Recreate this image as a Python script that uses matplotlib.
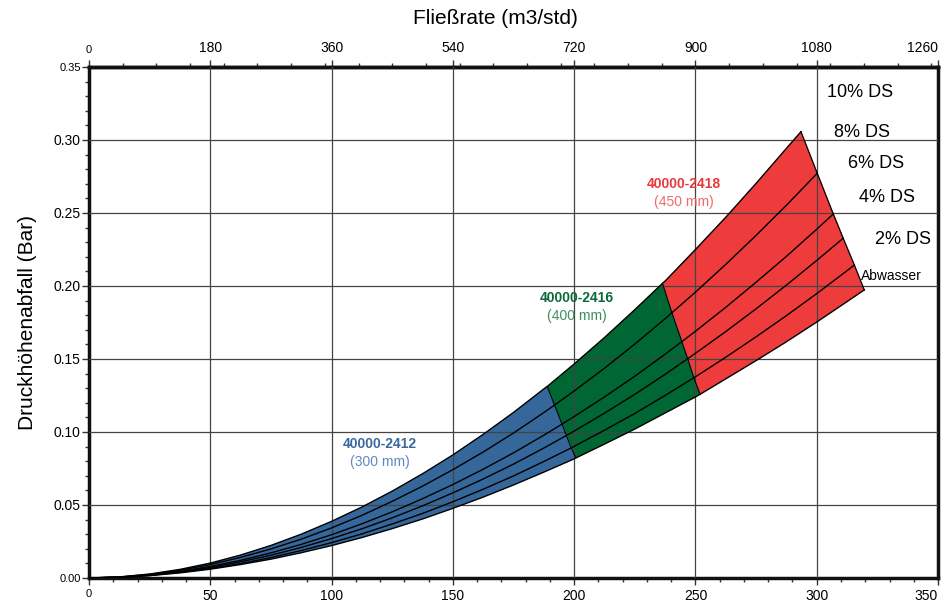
import numpy as np
import matplotlib
matplotlib.use('Agg')
import matplotlib.pyplot as plt
from matplotlib.ticker import MultipleLocator

plt.rcParams['font.family'] = ['Liberation Sans', 'DejaVu Sans']

# Fließrate in l/s (bottom axis), curves
x_grid = [0, 12.5, 25, 37.5, 50, 62.5, 75, 87.5, 100, 112.5, 125, 137.5, 150, 162.5, 175,
          187.5, 200, 212.5, 225, 237.5, 250, 262.5, 275, 287.5, 300, 312.5]
ds10 = [0, 0.0007, 0.0027, 0.0059, 0.0102, 0.0157, 0.0223, 0.0300, 0.0388, 0.0486, 0.0595,
        0.0714, 0.0843, 0.0984, 0.1134, 0.1295, 0.1466, 0.1647, 0.1838, 0.2034, 0.2250,
        0.2471, 0.2703, 0.2943]
ds8 = [0, 0.00066, 0.0025, 0.0053, 0.0092, 0.0141, 0.0199, 0.0266, 0.0343, 0.0429, 0.0525,
       0.0629, 0.0742, 0.0863, 0.0993, 0.1133, 0.1281, 0.1437, 0.1602, 0.1776, 0.1958,
       0.2148, 0.2347, 0.2553]
ds6 = [0, 0.00057, 0.0021, 0.0046, 0.0079, 0.0121, 0.0172, 0.0230, 0.0296, 0.0371, 0.0453,
       0.0543, 0.0640, 0.0745, 0.0857, 0.0978, 0.1106, 0.1240, 0.1382, 0.1533, 0.1690,
       0.1854, 0.2026, 0.2203, 0.2389]
ds4 = [0, 0.00052, 0.0019, 0.0042, 0.0072, 0.0111, 0.0156, 0.0209, 0.0270, 0.0337, 0.0412,
       0.0494, 0.0583, 0.0678, 0.0780, 0.0890, 0.1006, 0.1129, 0.1258, 0.1395, 0.1539,
       0.1688, 0.1844, 0.2006, 0.2175]
ds2 = [0, 0.00046, 0.0017, 0.0038, 0.0065, 0.0099, 0.0140, 0.0188, 0.0242, 0.0302, 0.0370,
       0.0442, 0.0522, 0.0608, 0.0699, 0.0798, 0.0902, 0.1012, 0.1127, 0.1250, 0.1378,
       0.1512, 0.1652, 0.1797, 0.1948, 0.2105]
abwasser = [0, 0.00045, 0.0016, 0.0035, 0.0060, 0.0092, 0.0129, 0.0173, 0.0222, 0.0277, 0.0338,
            0.0404, 0.0477, 0.0554, 0.0637, 0.0725, 0.0816, 0.0917, 0.1020, 0.1130, 0.1240,
            0.1364, 0.1489, 0.1618, 0.1753, 0.1893]
curves = [ds10, ds8, ds6, ds4, ds2, abwasser]

# where each curve crosses the model boundaries, and where it ends
cut1_x = [188.9, 191.9, 195.0, 196.8, 198.8, 200.7]
cut1_y = [0.1312, 0.1184, 0.1054, 0.0976, 0.0891, 0.0822]
cut2_x = [236.4, 240.3, 244.4, 246.8, 249.35, 251.9]
cut2_y = [0.2018, 0.1817, 0.1619, 0.1502, 0.1372, 0.1258]
end_x = [293.5, 300.2, 306.8, 310.9, 315.5, 319.6]
end_y = [0.3057, 0.2772, 0.2493, 0.2327, 0.2144, 0.1973]

curve_labels = ['10% DS', '8% DS', '6% DS', '4% DS', '2% DS', 'Abwasser']
label_x = [304.2, 307.1, 312.7, 317.3, 324.0, 318.3]
label_y = [0.3324, 0.3050, 0.2840, 0.2607, 0.2315, 0.2068]

models = ['40000-2412', '40000-2416', '40000-2418']
sizes = ['(300 mm)', '(400 mm)', '(450 mm)']
model_x = [120, 201.2, 245.3]
model_y = [0.0918, 0.1918, 0.2700]
colors = ['#35679B', '#006633', '#EE3B3B']
text_dark = ['#3A69A0', '#0A6B3A', '#E8393A']
text_light = ['#5F8AC0', '#3D8F5F', '#EF6A6A']


def full_curve(k):
    xs = list(x_grid[:len(curves[k])]) + [cut1_x[k], cut2_x[k], end_x[k]]
    ys = list(curves[k]) + [cut1_y[k], cut2_y[k], end_y[k]]
    order = np.argsort(xs)
    return np.array(xs)[order], np.array(ys)[order]


def section(xs, ys, lo, hi):
    m = (xs >= lo - 1e-9) & (xs <= hi + 1e-9)
    return xs[m], ys[m]


fig = plt.figure(figsize=(9.48, 6.03), dpi=100)
ax = fig.add_axes([0.0939, 0.0415, 0.8956, 0.8474])

top_x, top_y = full_curve(0)
bot_x, bot_y = full_curve(5)
lims = [(0, 0, cut1_x[0], cut1_x[5]),
        (cut1_x[0], cut1_x[5], cut2_x[0], cut2_x[5]),
        (cut2_x[0], cut2_x[5], end_x[0], end_x[5])]
for (lo_t, lo_b, hi_t, hi_b), c in zip(lims, colors):
    tx, ty = section(top_x, top_y, lo_t, hi_t)
    bx, by = section(bot_x, bot_y, lo_b, hi_b)
    ax.fill(np.r_[tx, bx[::-1]], np.r_[ty, by[::-1]], color=c, lw=0, zorder=1)

for k in range(6):
    cx, cy = full_curve(k)
    ax.plot(cx, cy, color='black', lw=1.0, zorder=4)
ax.plot(cut1_x, cut1_y, color='black', lw=0.8, zorder=4)
ax.plot(cut2_x, cut2_y, color='black', lw=0.8, zorder=4)
ax.plot(end_x, end_y, color='black', lw=0.9, zorder=4)

# gridlines on top of the coloured band
for gx in range(50, 350, 50):
    ax.axvline(gx, color='#444444', lw=0.9, zorder=3)
for gy in np.arange(0.05, 0.34, 0.05):
    ax.axhline(gy, color='#444444', lw=0.9, zorder=3)

for t, x, y in zip(curve_labels, label_x, label_y):
    ax.text(x, y, t, fontsize=13 if t != 'Abwasser' else 10, ha='left', va='center', zorder=5)

for m, s, x, y, cd, cl in zip(models, sizes, model_x, model_y, text_dark, text_light):
    ax.text(x, y, m, color=cd, fontsize=10, fontweight='bold', ha='center', va='center', zorder=5)
    ax.text(x, y - 0.0123, s, color=cl, fontsize=10, ha='center', va='center', zorder=5)

ax.set_xlim(0, 350)
ax.set_ylim(0, 0.35)
xt = list(range(0, 351, 50))
ax.set_xticks(xt, [str(v) for v in xt])
yt = [0, 0.05, 0.10, 0.15, 0.20, 0.25, 0.30, 0.35]
ax.set_yticks(yt, ['%.2f' % v for v in yt])
ax.xaxis.set_minor_locator(MultipleLocator(10))
ax.yaxis.set_minor_locator(MultipleLocator(0.01))
ax.tick_params(which='both', direction='out', labelsize=10, width=1, color='#333333')
ax.tick_params(which='major', length=5)
ax.tick_params(which='minor', length=3)
ax.tick_params(axis='x', pad=3)
ax.tick_params(axis='y', pad=1)
for lab in [ax.get_xticklabels()[0], ax.get_yticklabels()[0], ax.get_yticklabels()[-1]]:
    lab.set_fontsize(8)
ax.get_xticklabels()[-1].set_horizontalalignment('right')

sec = ax.secondary_xaxis('top', functions=(lambda v: v * 3.6, lambda v: v / 3.6))
st = list(range(0, 1261, 180))
sec.set_xticks(st, [str(v) for v in st])
sec.xaxis.set_minor_locator(MultipleLocator(50))
sec.tick_params(which='both', direction='out', labelsize=10, width=1, color='#333333')
sec.tick_params(which='major', length=5)
sec.tick_params(which='minor', length=3)
sec.get_xticklabels()[0].set_fontsize(8)
sec.get_xticklabels()[-1].set_horizontalalignment('right')
sec.spines['top'].set_linewidth(2.5)

for sp in ax.spines.values():
    sp.set_linewidth(2.5)
    sp.set_color('#111111')

ax.set_ylabel('Druckhöhenabfall (Bar)', fontsize=15, labelpad=12)
fig.text(495 / 948, 1 - 18 / 603, 'Fließrate (m3/std)', fontsize=15, ha='center', va='center')

fig.savefig('out.png', dpi=100)
